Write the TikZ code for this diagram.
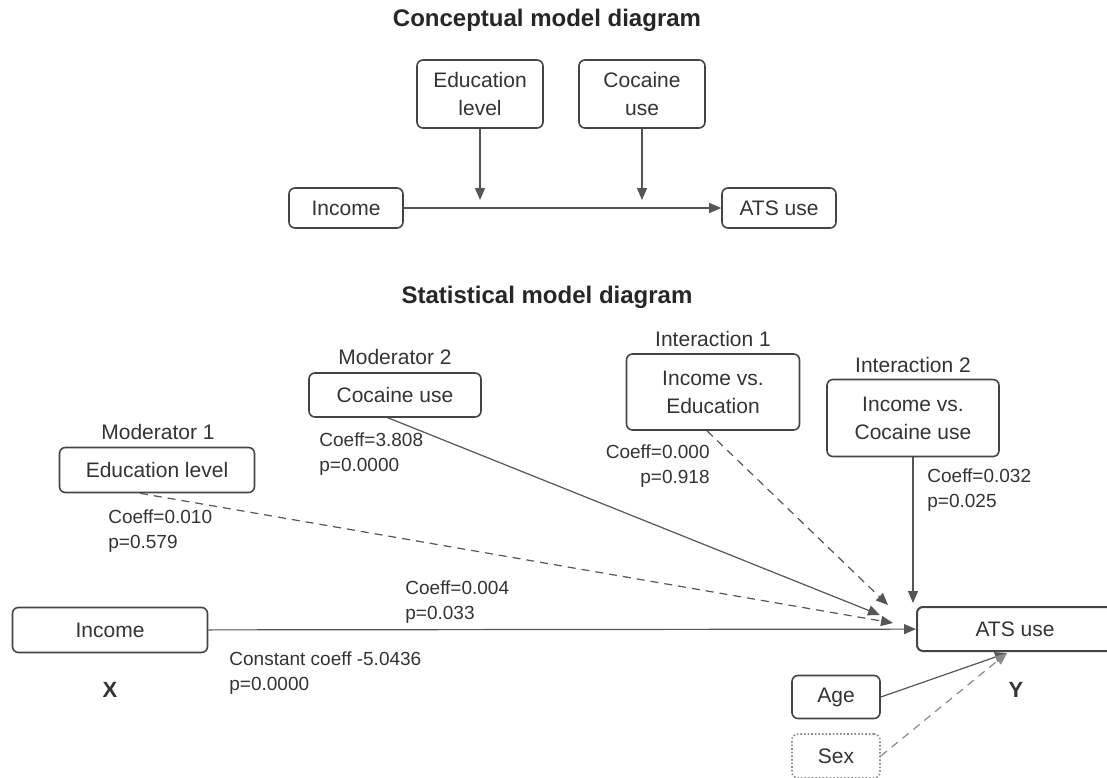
\documentclass[tikz,border=0pt]{standalone}
\usepackage{fontspec}
\setmainfont{Liberation Sans}
\usetikzlibrary{arrows.meta}
\definecolor{boxline}{HTML}{444444}
\definecolor{inkgray}{HTML}{333333}
\definecolor{wiregray}{HTML}{555555}
\definecolor{softgray}{HTML}{8A8A8A}

\begin{document}
\begin{tikzpicture}[x=0.5pt, y=-0.5pt,
    box/.style={draw=boxline, line width=0.8pt, rounded corners=3pt,
                text=inkgray, font=\fontsize{10.5}{14}\selectfont,
                align=center, inner sep=0pt},
    title/.style={font=\fontsize{12}{14}\selectfont\bfseries, text=black!85},
    tag/.style={font=\fontsize{10.5}{13}\selectfont, text=inkgray, inner sep=0pt},
    lbl/.style={font=\fontsize{9.5}{12.5}\selectfont, text=inkgray, inner sep=0pt},
    arr/.style={-{Triangle[length=6pt, width=5pt]}, draw=wiregray, line width=0.6pt},
    dasharr/.style={arr, dash pattern=on 4pt off 3pt}
  ]
  \useasboundingbox (0,0) rectangle (1107,777);

  % Conceptual model
  \node[title] (ctitle) at (547,20) {Conceptual model diagram};
  \node[box, minimum width=63pt, minimum height=34pt] (cedu) at (480,94) {Education\\level};
  \node[box, minimum width=63pt, minimum height=34pt] (ccoc) at (642,94) {Cocaine\\use};
  \node[box, minimum width=57pt, minimum height=20pt] (cinc) at (346,208) {Income};
  \node[box, minimum width=57pt, minimum height=20pt] (cats) at (779,208) {ATS use};

  \draw[arr] (cinc) -- (cats);
  \draw[arr] (cedu.south) -- ([yshift=4pt]cedu.south |- cinc.center);
  \draw[arr] (ccoc.south) -- ([yshift=4pt]ccoc.south |- cinc.center);

  % Statistical model
  \node[title] (stitle) at (547,297) {Statistical model diagram};

  \node[box, minimum width=97.5pt, minimum height=22.5pt] (medu) at (157,470) {Education level};
  \node[tag] (medutag) at (158,432) {Moderator 1};
  \node[box, minimum width=86pt, minimum height=22pt] (mcoc) at (395,395) {Cocaine use};
  \node[tag] (mcoctag) at (395,357) {Moderator 2};
  \node[box, minimum width=86.5pt, minimum height=38pt] (int1) at (713,392) {Income vs.\\Education};
  \node[tag] (int1tag) at (713,339) {Interaction 1};
  \node[box, minimum width=86pt, minimum height=38.5pt] (int2) at (913,418) {Income vs.\\Cocaine use};
  \node[tag] (int2tag) at (913,365) {Interaction 2};

  \node[box, minimum width=97.5pt, minimum height=22.5pt] (inc) at (110,630) {Income};
  \node[box, line width=1pt, minimum width=98pt, minimum height=22pt] (ats) at (1015,629) {ATS use};
  \node[box, minimum width=44pt, minimum height=21.5pt] (age) at (836,697) {Age};
  \node[box, draw=softgray, densely dotted, minimum width=44pt, minimum height=22pt] (sex) at (836,756) {Sex};

  \node[font=\fontsize{11}{13}\selectfont\bfseries, text=inkgray] (xlab) at (110,690) {X};
  \node[font=\fontsize{11}{13}\selectfont\bfseries, text=inkgray] (ylab) at (1016,690) {Y};

  % Coefficients
  \node[lbl, anchor=west, align=left] (cf1) at (108,531) {Coeff=0.010\\p=0.579};
  \node[lbl, anchor=west, align=left] (cf2) at (319,454) {Coeff=3.808\\p=0.0000};
  \node[lbl, anchor=east, align=right] (cf3) at (710,466) {Coeff=0.000\\p=0.918};
  \node[lbl, anchor=west, align=left] (cf4) at (927,490) {Coeff=0.032\\p=0.025};
  \node[lbl, anchor=west, align=left] (cf5) at (405,602) {Coeff=0.004\\p=0.033};
  \node[lbl, anchor=west, align=left] (cf6) at (229,673) {Constant coeff -5.0436\\p=0.0000};

  % Arrow ends near ATS use
  \coordinate (tedu) at (893,623);
  \coordinate (tcoc) at (880,615);
  \coordinate (tint1) at (888,605);
  \coordinate (tint2) at (913,603);
  \coordinate (tage) at (1007,653);

  \draw[arr] (inc) -- (ats);
  \draw[dasharr] ([xshift=-8.5pt]medu.south) -- (tedu);
  \draw[arr] ([xshift=-3.5pt]mcoc.south) -- (tcoc);
  \draw[dasharr] ([xshift=-3pt]int1.south) -- (tint1);
  \draw[arr] (int2.south) -- (tint2);
  \draw[arr] (age.east) -- (tage);
  \draw[dasharr, draw=softgray] (sex.east) -- (tage);
\end{tikzpicture}
\end{document}
